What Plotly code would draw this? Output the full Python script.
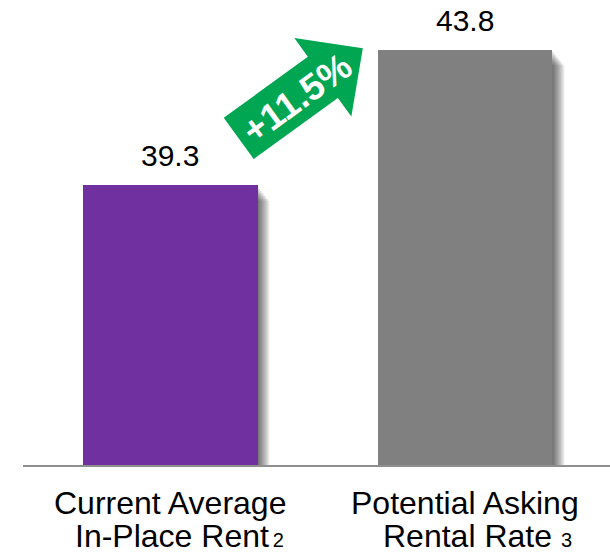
import math
import plotly.graph_objects as go

# Chart data
categories = ["Current Average", "Potential Asking"]
category_line2 = ["In-Place Rent", "Rental Rate"]
footnotes = ["2", "3"]
values = [39.3, 43.8]
change_label = "+11.5%"

bar_colors = ["#7030A0", "#808080"]
arrow_color = "#00A651"
FONT = "Liberation Sans, Arial, sans-serif"

x_pos = list(range(len(values)))
bar_width = 0.59
y_min = 30.0
y_max = 45.47

fig = go.Figure()
fig.add_trace(go.Bar(
    x=x_pos, y=values, width=bar_width,
    marker=dict(color=bar_colors, line=dict(width=0)),
    hoverinfo="skip", showlegend=False,
))

shapes = []
# soft drop shadow on the right side of each bar
for i, v in enumerate(values):
    right = x_pos[i] + bar_width / 2
    for k in range(1, 11):
        shapes.append(dict(
            type="rect", layer="below", xref="x", yref="y",
            xsizemode="pixel", xanchor=right, x0=-2, x1=1.2 * k,
            y0=y_min, y1=v - 0.05 * k,
            fillcolor="rgba(0,0,0,0.07)", line=dict(width=0),
        ))

# growth arrow, anchored at the top-right corner of the first bar
ang = math.radians(36)
ux, uy = math.cos(ang), math.sin(ang)
nx, ny = -math.sin(ang), math.cos(ang)
ox, oy = -18.8, 47.0
shaft_len, head_len = 104.0, 49.4
shaft_hw, head_hw = 25.5, 48.5
local = [(0, -shaft_hw), (shaft_len, -shaft_hw), (shaft_len, -head_hw),
         (shaft_len + head_len, 0), (shaft_len, head_hw),
         (shaft_len, shaft_hw), (0, shaft_hw)]
pts = [(ox + s * ux + t * nx, oy + s * uy + t * ny) for s, t in local]
path = "M " + " L ".join(f"{px:.2f},{py:.2f}" for px, py in pts) + " Z"
shapes.append(dict(
    type="path", xref="x", yref="y",
    xsizemode="pixel", ysizemode="pixel",
    xanchor=x_pos[0] + bar_width / 2, yanchor=values[0],
    path=path, fillcolor=arrow_color, line=dict(width=0), layer="above",
))

annotations = []
# value labels above the bars
for i, v in enumerate(values):
    annotations.append(dict(
        x=x_pos[i], y=v, xref="x", yref="y", text=f"{v:.1f}",
        showarrow=False, xanchor="center", yanchor="bottom", yshift=11,
        font=dict(family=FONT, size=30, color="#000000"),
    ))

# label inside the arrow
s_c, t_c = 70.5, -2.0
annotations.append(dict(
    x=x_pos[0] + bar_width / 2, y=values[0], xref="x", yref="y",
    text=f"<b>{change_label}</b>", showarrow=False, textangle=-36,
    xanchor="center", yanchor="middle",
    xshift=ox + s_c * ux + t_c * nx, yshift=oy + s_c * uy + t_c * ny,
    font=dict(family=FONT, size=37, color="#FFFFFF"),
))

# category labels below the axis
gaps = [14, 32]
line2_shift = [9, 12.5]
for i in x_pos:
    annotations.append(dict(
        x=x_pos[i], y=0, xref="x", yref="paper", text=categories[i],
        showarrow=False, xanchor="center", yanchor="top", yshift=-18,
        font=dict(family=FONT, size=32, color="#000000"),
    ))
    annotations.append(dict(
        x=x_pos[i], y=0, xref="x", yref="paper",
        text=(f"{category_line2[i]}<span style='font-size:{gaps[i]}px'> </span>"
              f"<span style='font-size:20px'>{footnotes[i]}</span>"),
        showarrow=False, xanchor="center", yanchor="top", yshift=-51,
        xshift=line2_shift[i],
        font=dict(family=FONT, size=32, color="#000000"),
    ))

fig.update_layout(
    width=610, height=553,
    margin=dict(l=23, r=0, t=0, b=88, pad=0),
    paper_bgcolor="#FFFFFF", plot_bgcolor="#FFFFFF",
    bargap=0,
    xaxis=dict(range=[-0.5, 1.49], showline=True, linecolor="#8F8F8F",
               linewidth=2, showticklabels=False, showgrid=False,
               zeroline=False, ticks="", fixedrange=True),
    yaxis=dict(range=[y_min, y_max], visible=False, fixedrange=True),
    shapes=shapes, annotations=annotations,
    font=dict(family=FONT),
)

fig.write_html("out.html", config={"displayModeBar": False})
